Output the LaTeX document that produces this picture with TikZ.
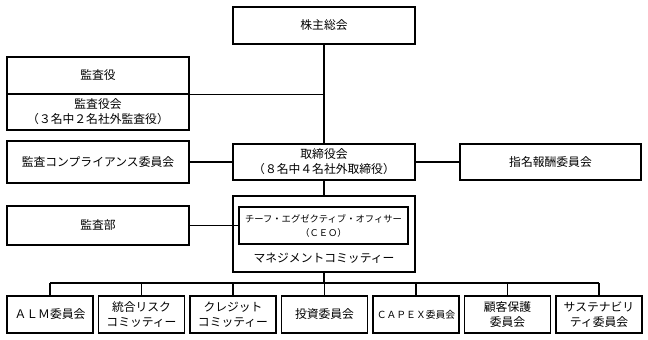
\documentclass[tikz,border=0pt]{standalone}
\usepackage{fontspec}
\setmainfont{Noto Sans CJK JP}
\begin{document}
\begin{tikzpicture}[x=1pt,y=-1pt,
  box/.style={draw, line width=1.6pt, rectangle, inner sep=0pt, align=center,
    font=\fontsize{11.8}{15}\selectfont},
  wide/.style={box, minimum width=182pt, minimum height=37pt},
  small/.style={box, minimum width=86pt, minimum height=37pt},
  link/.style={line width=1.3pt},
  plain/.style={inner sep=0pt, align=center, font=\fontsize{11.8}{15}\selectfont}]
\useasboundingbox (0,0) rectangle (648,340);

% top
\node[wide] (soukai) at (324,25.5) {株主総会};
\node[wide] (kansayaku) at (98,75.5) {監査役};
\node[wide, minimum height=36pt] (kansayakukai) at (98,112) {監査役会\\（３名中２名社外監査役）};
\node[wide, minimum height=42pt] (compliance) at (98,162) {監査コンプライアンス委員会};
\node[wide, minimum height=36pt] (torishimari) at (324,162) {取締役会\\（８名中４名社外取締役）};
\node[wide, minimum width=181pt, minimum height=36pt] (shimei) at (550.5,162) {指名報酬委員会};

% management committee
\node[wide, minimum height=76pt] (mgmt) at (324,234) {};
\node[box, minimum width=169pt, minimum height=37pt, font=\fontsize{9.3}{14}\selectfont] (ceo) at (323.5,225.5) {チーフ・エグゼクティブ・オフィサー\\（ＣＥＯ）};
\node[plain] (mgmttext) at (324,258.5) {マネジメントコミッティー};
\node[wide, minimum height=39pt] (kansabu) at (98,225.5) {監査部};

% bottom row
\node[small] (b1) at (50,314.5) {ＡＬＭ委員会};
\node[small] (b2) at (141.5,314.5) {統合リスク\\コミッティー};
\node[small] (b3) at (233,314.5) {クレジット\\コミッティー};
\node[small] (b4) at (324.5,314.5) {投資委員会};
\node[small, font=\fontsize{9.8}{15}\selectfont] (b5) at (416,314.5) {ＣＡＰＥＸ委員会};
\node[small] (b6) at (507.5,314.5) {顧客保護\\委員会};
\node[small] (b7) at (599,314.5) {サステナビリ\\ティ委員会};

% connectors
\draw[link] (soukai.south) -- (torishimari.north);
\draw[link] (kansayaku.south east) -- (kansayaku.south east -| soukai.south);
\draw[link] (compliance.east) -- (torishimari.west);
\draw[link] (torishimari.east) -- (shimei.west);
\draw[link] (torishimari.south) -- (mgmt.north);
\draw[link] (kansabu.east) -- (ceo.west);
\coordinate (bus) at (324,283);
\draw[link] (mgmt.south) -- (bus);
\draw[link] (b1.north |- bus) -- (b7.north |- bus);
\foreach \b in {b1,b2,b3,b4,b5,b6,b7}
  \draw[link] (\b.north) -- (\b.north |- bus);
\end{tikzpicture}
\end{document}
